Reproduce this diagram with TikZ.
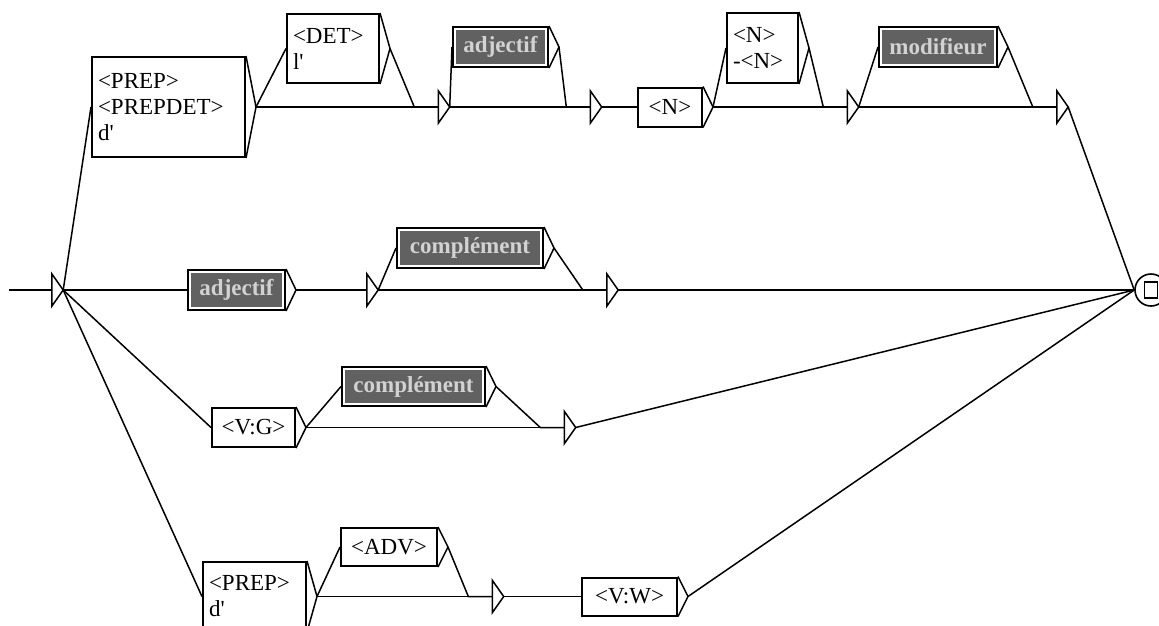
\documentclass[tikz,border=0pt]{standalone}
\usepackage{fontspec}
\setmainfont{Liberation Serif}
\usepackage{tikz}

\newcommand\ufont{\fontsize{23}{26}\selectfont}
% exit triangle on the right of a box, tip named <box>-o
\newcommand\boxout[1]{%
  \coordinate (#1-o) at ([xshift=10pt]#1.east);
  \draw[conn] (#1.north east) -- (#1-o) -- (#1.south east);}
% empty node drawn as a small triangle
\newcommand\emptytri[1]{\draw[conn] (#1.north west) -- (#1.east) -- (#1.south west) -- cycle;}

\tikzset{
  conn/.style={line width=1.5pt},
  lbox/.style={draw,line width=2pt,fill=white,inner xsep=6pt,inner ysep=0pt,font=\ufont,align=left},
  cbox/.style={draw,line width=2pt,fill=white,inner sep=0pt,font=\ufont},
  gbox/.style={draw,line width=2pt,fill=white,inner sep=0pt,font=\ufont\bfseries,text=gray!35,
    path picture={\fill[black!62] ([shift={(3pt,3pt)}]path picture bounding box.south west)
      rectangle ([shift={(-3pt,-3pt)}]path picture bounding box.north east);}},
  nbox/.style={inner sep=0pt,minimum width=11pt,minimum height=32pt},
}

\begin{document}
\begin{tikzpicture}[x=1pt,y=-1pt]
\useasboundingbox (0,0) rectangle (1159,625);
\clip (0,0) rectangle (1159,625);

% top path
\node[lbox,text width=141pt,minimum height=100pt] (prepA) at (168.5,107) {<PREP>\\<PREPDET>\\d\textquotesingle};
\node[lbox,text width=80pt,minimum height=69pt] (det) at (333,48.5) {<DET>\\l\textquotesingle};
\node[nbox] (n1) at (444,107) {};
\node[gbox,minimum width=95pt,minimum height=40pt] (adjA) at (500.5,47) {adjectif};
\node[nbox] (n2) at (596,107) {};
\node[cbox,minimum width=64pt,minimum height=39pt] (nom) at (670,107) {<N>};
\node[lbox,text width=59pt,minimum height=70pt] (nomB) at (762.5,48) {<N>\\-<N>};
\node[nbox] (n3) at (853,107) {};
\node[gbox,minimum width=118pt,minimum height=40pt] (modif) at (938,47) {modifieur};
\node[nbox] (n4) at (1062.5,107) {};

% middle path
\coordinate (in) at (9,290);
\node[nbox] (ini) at (57.5,290) {};
\node[gbox,minimum width=97pt,minimum height=40pt] (adjB) at (236.5,290) {adjectif};
\node[nbox] (n5) at (372.5,290) {};
\node[gbox,minimum width=146pt,minimum height=40pt] (complB) at (470,248) {complément};
\node[nbox] (n6) at (612.5,290) {};

% verb path
\node[cbox,minimum width=83pt,minimum height=39pt] (vg) at (253.5,427.5) {<V:G>};
\node[gbox,minimum width=143pt,minimum height=39pt] (complC) at (413.5,386.5) {complément};
\node[nbox] (n7) at (570,427.5) {};

% bottom path
\node[lbox,text width=91pt,minimum height=69pt] (prepB) at (254.5,596.5) {<PREP>\\d\textquotesingle};
\node[cbox,minimum width=96pt,minimum height=38pt] (adv) at (389,547) {<ADV>};
\node[nbox] (n8) at (498,596.5) {};
\node[cbox,minimum width=95pt,minimum height=38pt] (vw) at (629.5,596.5) {<V:W>};

% final state
\node[draw,circle,line width=1.6pt,minimum size=32pt,inner sep=0pt] (fin) at (1151,290) {};
\node[draw,line width=1.6pt,minimum width=13pt,minimum height=16pt,inner sep=0pt] (finsq) at (fin.center) {};

\boxout{prepA} \boxout{det} \boxout{adjA} \boxout{nom} \boxout{nomB} \boxout{modif}
\boxout{adjB} \boxout{complB} \boxout{vg} \boxout{complC}
\boxout{prepB} \boxout{adv} \boxout{vw}
\emptytri{ini} \emptytri{n1} \emptytri{n2} \emptytri{n3} \emptytri{n4}
\emptytri{n5} \emptytri{n6} \emptytri{n7} \emptytri{n8}

\draw[conn] (in) -- (ini.west);
\draw[conn] (ini.east) -- (prepA.west);
\draw[conn] (ini.east) -- (adjB.west);
\draw[conn] (ini.east) -- (vg.west);
\draw[conn] (ini.east) -- (prepB.west);

\draw[conn] (prepA-o) -- (det.west);
\draw[conn] (prepA-o) -- (n1.west);
\draw[conn] (det-o) -- ([xshift=-24pt]n1.west) -- (n1.west);
\draw[conn] (n1.east) -- (adjA.west);
\draw[conn] (n1.east) -- (n2.west);
\draw[conn] (adjA-o) -- ([xshift=-24pt]n2.west) -- (n2.west);
\draw[conn] (n2.east) -- (nom.west);
\draw[conn] (nom-o) -- (nomB.west);
\draw[conn] (nom-o) -- (n3.west);
\draw[conn] (nomB-o) -- ([xshift=-24pt]n3.west) -- (n3.west);
\draw[conn] (n3.east) -- (modif.west);
\draw[conn] (n3.east) -- (n4.west);
\draw[conn] (modif-o) -- ([xshift=-24pt]n4.west) -- (n4.west);
\draw[conn] (n4.east) -- (fin.west);

\draw[conn] (adjB-o) -- (n5.west);
\draw[conn] (n5.east) -- (complB.west);
\draw[conn] (n5.east) -- (n6.west);
\draw[conn] (complB-o) -- ([xshift=-24pt]n6.west) -- (n6.west);
\draw[conn] (n6.east) -- (fin.west);

\draw[conn] (vg-o) -- (complC.west);
\draw[conn] (vg-o) -- (n7.west);
\draw[conn] (complC-o) -- ([xshift=-24pt]n7.west) -- (n7.west);
\draw[conn] (n7.east) -- (fin.west);

\draw[conn] (prepB-o) -- (adv.west);
\draw[conn] (prepB-o) -- (n8.west);
\draw[conn] (adv-o) -- ([xshift=-24pt]n8.west) -- (n8.west);
\draw[conn] (n8.east) -- (vw.west);
\draw[conn] (vw-o) -- (fin.west);
\end{tikzpicture}
\end{document}
